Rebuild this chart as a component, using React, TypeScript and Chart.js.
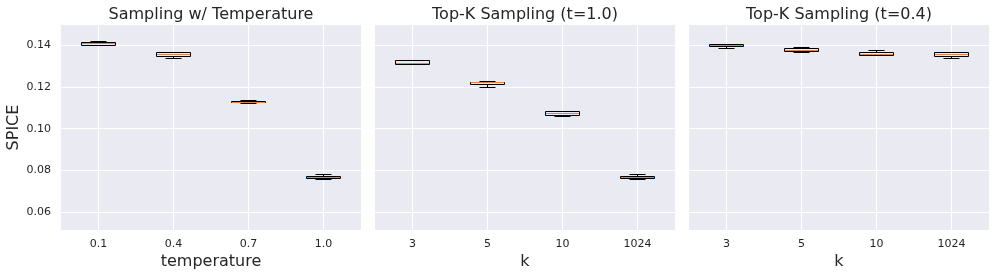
import React, { useEffect, useRef } from 'react';
import { Chart, registerables } from 'chart.js';

Chart.register(...registerables);

const FONT = '"DejaVu Sans", "Liberation Sans", sans-serif';
const TEXT = '#262626';
const AXBG = '#EAEAF2';
const MEDIAN = '#DD8452';

// shared y axis
const yTicks = [0.06, 0.08, 0.1, 0.12, 0.14];
const yMin = 0.0515;
const yMax = 0.1497;

// Panel 1: Sampling w/ Temperature
const tempLabels = ['0.1', '0.4', '0.7', '1.0'];
const tempMin = [0.1399, 0.1341, 0.1121, 0.076];
const tempQ1 = [0.1402, 0.1349, 0.1126, 0.0766];
const tempMed = [0.1409, 0.136, 0.113, 0.0771];
const tempQ3 = [0.1416, 0.1366, 0.1134, 0.0776];
const tempMax = [0.1419, 0.137, 0.1138, 0.0781];

// Panel 2: Top-K Sampling (t=1.0)
const kLabels = ['3', '5', '10', '1024'];
const k10Min = [0.131, 0.12, 0.1062, 0.076];
const k10Q1 = [0.131, 0.1213, 0.1068, 0.0766];
const k10Med = [0.1317, 0.1222, 0.1077, 0.0771];
const k10Q3 = [0.1328, 0.1226, 0.1083, 0.0776];
const k10Max = [0.1328, 0.1229, 0.1086, 0.0781];

// Panel 3: Top-K Sampling (t=0.4)
const k04Min = [0.1389, 0.1368, 0.1354, 0.1341];
const k04Q1 = [0.1397, 0.1373, 0.1354, 0.1349];
const k04Med = [0.14, 0.1379, 0.136, 0.136];
const k04Q3 = [0.1405, 0.1386, 0.1366, 0.1366];
const k04Max = [0.1408, 0.139, 0.1379, 0.137];

type PanelDef = {
  title: string; xTitle: string; labels: string[];
  mins: number[]; q1s: number[]; meds: number[]; q3s: number[]; maxs: number[];
  showY: boolean; left: number; width: number; yWidth: number; padRight: number;
};

const panels: PanelDef[] = [
  { title: 'Sampling w/ Temperature', xTitle: 'temperature', labels: tempLabels, mins: tempMin, q1s: tempQ1, meds: tempMed, q3s: tempQ3, maxs: tempMax, showY: true, left: 0, width: 370, yWidth: 61, padRight: 9 },
  { title: 'Top-K Sampling (t=1.0)', xTitle: 'k', labels: kLabels, mins: k10Min, q1s: k10Q1, meds: k10Med, q3s: k10Q3, maxs: k10Max, showY: false, left: 370, width: 310, yWidth: 5, padRight: 5 },
  { title: 'Top-K Sampling (t=0.4)', xTitle: 'k', labels: kLabels, mins: k04Min, q1s: k04Q1, meds: k04Med, q3s: k04Q3, maxs: k04Max, showY: false, left: 680, width: 316, yWidth: 9, padRight: 7 },
];

const snap = (v: number) => Math.round(v) + 0.5;

const axesBg = {
  id: 'axesBg',
  beforeDraw(chart: any) {
    const { ctx, chartArea } = chart;
    if (!chartArea) return;
    ctx.save();
    ctx.fillStyle = AXBG;
    ctx.fillRect(chartArea.left, chartArea.top, chartArea.right - chartArea.left, chartArea.bottom - chartArea.top);
    ctx.restore();
  },
};

const panelTitle = {
  id: 'panelTitle',
  afterDraw(chart: any, _args: any, opts: any) {
    const { ctx, chartArea } = chart;
    ctx.save();
    ctx.fillStyle = TEXT;
    ctx.font = `16px ${FONT}`;
    ctx.textAlign = 'center';
    ctx.textBaseline = 'alphabetic';
    ctx.fillText(opts.text, (chartArea.left + chartArea.right) / 2, 19);
    ctx.restore();
  },
};

const boxWhiskers = {
  id: 'boxWhiskers',
  afterDatasetsDraw(chart: any, _args: any, opts: any) {
    const { ctx } = chart;
    const xs = chart.scales.x;
    const ys = chart.scales.y;
    const meta = chart.getDatasetMeta(0);
    ctx.save();
    meta.data.forEach((bar: any, i: number) => {
      const { width } = bar.getProps(['width'], true);
      const cx = snap(xs.getPixelForValue(i) - 0.5);
      const half = Math.round(width / 2);
      const capHalf = Math.round(width / 4);
      const yMinP = snap(ys.getPixelForValue(opts.mins[i]));
      const yQ1 = snap(ys.getPixelForValue(opts.q1s[i]));
      const yMed = snap(ys.getPixelForValue(opts.meds[i]));
      const yQ3 = snap(ys.getPixelForValue(opts.q3s[i]));
      const yMaxP = snap(ys.getPixelForValue(opts.maxs[i]));
      ctx.lineWidth = 1;
      ctx.strokeStyle = '#000';
      ctx.beginPath();
      // whiskers
      ctx.moveTo(cx, yQ1); ctx.lineTo(cx, yMinP);
      ctx.moveTo(cx, yQ3); ctx.lineTo(cx, yMaxP);
      // caps
      ctx.moveTo(cx - capHalf, yMinP); ctx.lineTo(cx + capHalf, yMinP);
      ctx.moveTo(cx - capHalf, yMaxP); ctx.lineTo(cx + capHalf, yMaxP);
      // box outline
      ctx.moveTo(cx - half, yQ1); ctx.lineTo(cx + half, yQ1);
      ctx.lineTo(cx + half, yQ3); ctx.lineTo(cx - half, yQ3);
      ctx.closePath();
      ctx.stroke();
      // median
      ctx.strokeStyle = MEDIAN;
      ctx.beginPath();
      ctx.moveTo(cx - half + 0.5, yMed);
      ctx.lineTo(cx + half - 0.5, yMed);
      ctx.stroke();
    });
    ctx.restore();
  },
};

function Panel({ def }: { def: PanelDef }) {
  const ref = useRef<HTMLCanvasElement | null>(null);
  useEffect(() => {
    if (!ref.current) return;
    const chart = new Chart(ref.current, {
      type: 'bar',
      data: {
        labels: def.labels,
        datasets: [{
          data: def.labels.map((_, i) => [def.q1s[i], def.q3s[i]]) as any,
          backgroundColor: 'rgba(0,0,0,0)', borderColor: 'rgba(0,0,0,0)', borderWidth: 0,
          borderSkipped: false, barPercentage: 0.45, categoryPercentage: 1,
        }],
      },
      options: {
        responsive: false, animation: false, devicePixelRatio: 1, events: [],
        layout: { padding: { left: 0, right: def.padRight, top: 25, bottom: 0 } },
        plugins: {
          legend: { display: false }, tooltip: { enabled: false }, title: { display: false },
          panelTitle: { text: def.title },
          boxWhiskers: { mins: def.mins, q1s: def.q1s, meds: def.meds, q3s: def.q3s, maxs: def.maxs },
        } as any,
        scales: {
          x: {
            type: 'category', offset: true,
            grid: { offset: false, color: '#ffffff', lineWidth: 1, drawTicks: false },
            border: { display: false },
            ticks: { color: TEXT, font: { family: FONT, size: 11 }, padding: 8, maxRotation: 0 },
            title: { display: true, text: def.xTitle, color: TEXT, font: { family: FONT, size: 16 }, padding: { top: 0, bottom: 5 } },
            afterFit: (s: any) => { s.height = 46; },
          },
          y: {
            type: 'linear', min: yMin, max: yMax,
            afterBuildTicks: (s: any) => { s.ticks = yTicks.map((v) => ({ value: v })); },
            grid: { color: '#ffffff', lineWidth: 1, drawTicks: false },
            border: { display: false },
            ticks: { display: def.showY, color: TEXT, font: { family: FONT, size: 11 }, padding: 10, callback: (v: any) => Number(v).toFixed(2) },
            title: { display: def.showY, text: 'SPICE', color: TEXT, font: { family: FONT, size: 16 }, padding: { top: 4, bottom: 0 } },
            afterFit: (s: any) => { s.width = def.yWidth; },
          },
        },
      },
      plugins: [axesBg, panelTitle, boxWhiskers],
    });
    return () => chart.destroy();
  }, [def]);
  return (
    <canvas ref={ref} width={def.width} height={276}
      style={{ position: 'absolute', left: def.left, top: 0, width: def.width, height: 276 }} />
  );
}

export default function App() {
  return (
    <div style={{ position: 'absolute', left: 0, top: 0, width: 996, height: 276, background: '#ffffff' }}>
      {panels.map((p, i) => (<Panel key={i} def={p} />))}
    </div>
  );
}
